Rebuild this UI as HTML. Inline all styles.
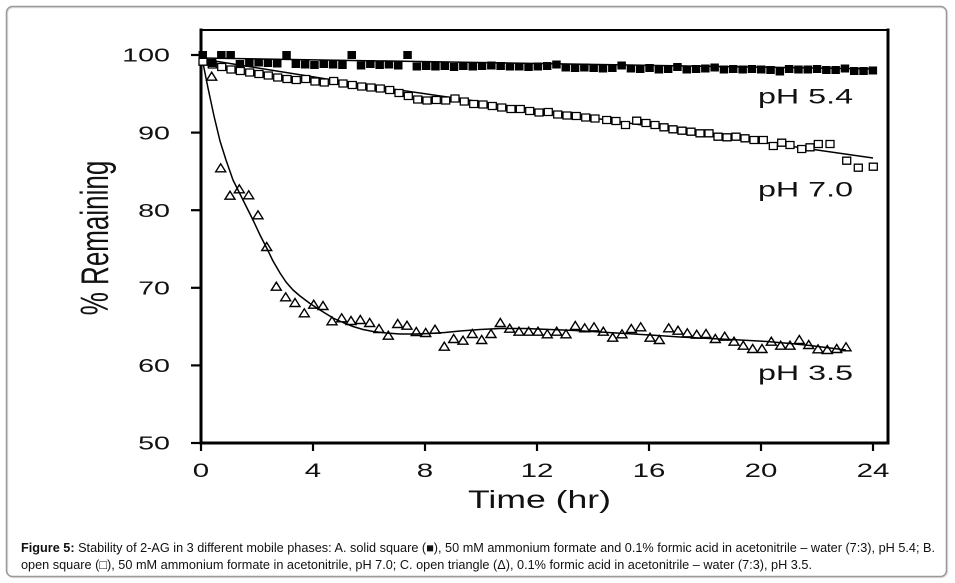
<!DOCTYPE html>
<html>
<head>
<meta charset="utf-8">
<style>
html,body{margin:0;padding:0;background:#fff;}
svg{display:block;}
text{font-family:"Liberation Sans",Arial,sans-serif;fill:#111;}
</style>
</head>
<body>
<svg width="955" height="583" viewBox="0 0 955 583" xmlns="http://www.w3.org/2000/svg">
<rect x="0" y="0" width="955" height="583" fill="#fff"/>
<!-- outer frame -->
<rect x="7.5" y="7.5" width="940" height="570" rx="6" ry="6" fill="none" stroke="#e2e2e2" stroke-width="1.5"/>
<rect x="6.5" y="6.5" width="940" height="570" rx="6" ry="6" fill="none" stroke="#999" stroke-width="1.5"/>

<!-- plot box -->
<g stroke="#000" fill="none" stroke-linecap="square">
<line x1="201" y1="30" x2="888" y2="30" stroke-width="2"/>
<line x1="888" y1="30" x2="888" y2="443" stroke-width="3"/>
<line x1="201" y1="30" x2="201" y2="443" stroke-width="3"/>
<line x1="201" y1="443" x2="888" y2="443" stroke-width="3"/>
</g>
<!-- ticks -->
<g stroke="#000" stroke-width="2.2">
<line x1="191" y1="55" x2="201" y2="55"/>
<line x1="191" y1="132.6" x2="201" y2="132.6"/>
<line x1="191" y1="210.2" x2="201" y2="210.2"/>
<line x1="191" y1="287.8" x2="201" y2="287.8"/>
<line x1="191" y1="365.4" x2="201" y2="365.4"/>
<line x1="191" y1="443" x2="201" y2="443"/>
<line x1="201" y1="443" x2="201" y2="451"/>
<line x1="313" y1="443" x2="313" y2="451"/>
<line x1="425" y1="443" x2="425" y2="451"/>
<line x1="537" y1="443" x2="537" y2="451"/>
<line x1="649" y1="443" x2="649" y2="451"/>
<line x1="761" y1="443" x2="761" y2="451"/>
<line x1="873" y1="443" x2="873" y2="451"/>
</g>
<!-- y tick labels -->
<g font-size="18.5" text-anchor="end">
<text transform="translate(170,61.7) scale(1.55,1)">100</text>
<text transform="translate(170,139.3) scale(1.55,1)">90</text>
<text transform="translate(170,216.9) scale(1.55,1)">80</text>
<text transform="translate(170,294.5) scale(1.55,1)">70</text>
<text transform="translate(170,372.1) scale(1.55,1)">60</text>
<text transform="translate(170,449.7) scale(1.55,1)">50</text>
</g>
<!-- x tick labels -->
<g font-size="19" text-anchor="middle">
<text transform="translate(201,477) scale(1.55,1)">0</text>
<text transform="translate(313,477) scale(1.55,1)">4</text>
<text transform="translate(425,477) scale(1.55,1)">8</text>
<text transform="translate(537,477) scale(1.55,1)">12</text>
<text transform="translate(649,477) scale(1.55,1)">16</text>
<text transform="translate(761,477) scale(1.55,1)">20</text>
<text transform="translate(873,477) scale(1.55,1)">24</text>
</g>
<!-- axis titles -->
<text x="468" y="508" font-size="25" textLength="143" lengthAdjust="spacingAndGlyphs">Time (hr)</text>
<text transform="translate(108,238) scale(1.5,1) rotate(-90)" font-size="26" text-anchor="middle">% Remaining</text>

<!-- series labels -->
<text x="758" y="103.3" font-size="21" textLength="95" lengthAdjust="spacingAndGlyphs">pH 5.4</text>
<text x="758" y="196.7" font-size="21" textLength="95" lengthAdjust="spacingAndGlyphs">pH 7.0</text>
<text x="758" y="380" font-size="21" textLength="95" lengthAdjust="spacingAndGlyphs">pH 3.5</text>

<!-- fit lines -->
<g fill="none" stroke="#000" stroke-width="1.5" stroke-linejoin="round">
<polyline points="202,58 873,69"/>
<polyline points="202,59 358,84 607,120 873,158"/>
<polyline points="202,58 208,88 214,116 220,141 226,160 233,180 243,200 253,220 260,235 266.7,248 273,261 280,273 286,282 293,290 300,296 310,303.5 320,310 333,318 343,322.5 353,326.5 363,329.5 373,331.5 386,333 400,334 415,334 430,333.5 445,332.5 460,331 480,329.5 500,328.5 525,328.5 550,329.5 575,330.5 600,332 625,333.5 650,335 680,337 710,338.5 740,340 767,341.5 790,343.5 810,345.5 830,348 846,350"/>
</g>

<!-- open squares pH 7.0 -->
<path fill="#fff" stroke="#000" stroke-width="1.3" d="M199 58.2h8v7h-8z M208.3 61h8v7h-8z M217.7 63.5h8v7h-8z M227 66h8v7h-8z M236.3 67.5h8v7h-8z M245.7 69h8v7h-8z M255 70.5h8v7h-8z M264.3 72h8v7h-8z M273.7 74h8v7h-8z M283 75.5h8v7h-8z M292.3 76.5h8v7h-8z M301.7 75.5h8v7h-8z M311 78h8v7h-8z M320.3 79h8v7h-8z M329.7 77.5h8v7h-8z M339 80h8v7h-8z M348.3 81.5h8v7h-8z M357.7 83h8v7h-8z M367 84h8v7h-8z M376.3 85h8v7h-8z M385.7 86.5h8v7h-8z M395 89.5h8v7h-8z M404.3 92.5h8v7h-8z M413.7 96h8v7h-8z M423 97h8v7h-8z M432.3 96.5h8v7h-8z M441.7 97h8v7h-8z M451 95h8v7h-8z M460.3 98h8v7h-8z M469.7 100.5h8v7h-8z M479 101h8v7h-8z M488.3 102.5h8v7h-8z M497.7 104h8v7h-8z M507 105.5h8v7h-8z M516.3 105.5h8v7h-8z M525.7 107.5h8v7h-8z M535 109h8v7h-8z M544.3 108.5h8v7h-8z M553.7 111h8v7h-8z M563 112h8v7h-8z M572.3 112.5h8v7h-8z M581.7 114h8v7h-8z M591 115h8v7h-8z M602.7 116.5h8v7h-8z M612 117.5h8v7h-8z M621.5 121.5h8v7h-8z M632.7 117.2h8v7h-8z M642 119.5h8v7h-8z M651 121.5h8v7h-8z M660 123.8h8v7h-8z M669 125.8h8v7h-8z M678 127.2h8v7h-8z M687 128.2h8v7h-8z M696 129.8h8v7h-8z M705 129.8h8v7h-8z M714 133.2h8v7h-8z M723 133.8h8v7h-8z M732 133.2h8v7h-8z M741 134.8h8v7h-8z M750 136.5h8v7h-8z M759.3 136.5h8v7h-8z M769.3 142.5h8v7h-8z M777.7 139.2h8v7h-8z M786 141.5h8v7h-8z M797.7 145.5h8v7h-8z M806 143.8h8v7h-8z M814.3 140.5h8v7h-8z M826 140.5h8v7h-8z M842.7 157.2h8v7h-8z M854.3 164.2h8v7h-8z M869.3 163.2h8v7h-8z"/>

<!-- filled squares pH 5.4 -->
<path fill="#000" d="M198.5 51h8.5v8h-8.5z M207.8 59h8.5v8h-8.5z M217.1 51h8.5v8h-8.5z M226.4 51h8.5v8h-8.5z M235.7 60h8.5v8h-8.5z M245.1 59h8.5v8h-8.5z M254.4 58.5h8.5v8h-8.5z M263.7 59h8.5v8h-8.5z M273 59.5h8.5v8h-8.5z M282.3 51h8.5v8h-8.5z M291.6 60h8.5v8h-8.5z M300.9 60.5h8.5v8h-8.5z M310.2 61h8.5v8h-8.5z M319.5 60h8.5v8h-8.5z M328.8 60.5h8.5v8h-8.5z M338.2 61h8.5v8h-8.5z M347.5 51h8.5v8h-8.5z M356.8 61.5h8.5v8h-8.5z M366.1 60h8.5v8h-8.5z M375.4 61h8.5v8h-8.5z M384.7 60.5h8.5v8h-8.5z M394 61.5h8.5v8h-8.5z M403.3 51h8.5v8h-8.5z M412.6 62.5h8.5v8h-8.5z M421.9 62h8.5v8h-8.5z M431.2 62.5h8.5v8h-8.5z M440.5 62h8.5v8h-8.5z M449.8 63h8.5v8h-8.5z M459.1 62h8.5v8h-8.5z M468.5 62.5h8.5v8h-8.5z M477.8 62h8.5v8h-8.5z M487.1 61.5h8.5v8h-8.5z M496.4 62h8.5v8h-8.5z M505.7 62.5h8.5v8h-8.5z M515 62.5h8.5v8h-8.5z M524.3 63h8.5v8h-8.5z M533.6 62.5h8.5v8h-8.5z M542.9 62h8.5v8h-8.5z M552.2 60.5h8.5v8h-8.5z M561.5 63.5h8.5v8h-8.5z M570.8 64h8.5v8h-8.5z M580.1 63.5h8.5v8h-8.5z M589.4 64h8.5v8h-8.5z M598.7 64.5h8.5v8h-8.5z M608.1 64h8.5v8h-8.5z M617.4 61.5h8.5v8h-8.5z M626.7 64.5h8.5v8h-8.5z M636 65h8.5v8h-8.5z M645.3 64h8.5v8h-8.5z M654.6 65.5h8.5v8h-8.5z M663.9 65h8.5v8h-8.5z M673.2 63h8.5v8h-8.5z M682.5 65.5h8.5v8h-8.5z M691.8 65h8.5v8h-8.5z M701.1 64.5h8.5v8h-8.5z M710.4 63.5h8.5v8h-8.5z M719.7 65.5h8.5v8h-8.5z M729 65h8.5v8h-8.5z M738.4 65.5h8.5v8h-8.5z M747.7 65h8.5v8h-8.5z M757 65.5h8.5v8h-8.5z M766.3 66h8.5v8h-8.5z M775.6 67.5h8.5v8h-8.5z M784.9 65h8.5v8h-8.5z M794.2 65.5h8.5v8h-8.5z M803.5 65.5h8.5v8h-8.5z M812.8 65h8.5v8h-8.5z M822.1 66h8.5v8h-8.5z M831.4 66h8.5v8h-8.5z M840.7 64.5h8.5v8h-8.5z M850 67h8.5v8h-8.5z M859.3 67h8.5v8h-8.5z M868.6 66.5h8.5v8h-8.5z"/>

<!-- open triangles pH 3.5 -->
<path fill="none" stroke="#000" stroke-width="1.4" stroke-linejoin="miter" d="M206.7 80.2h10l-5-8z M215.7 171.8h10l-5-8z M225 199.2h10l-5-8z M234.3 192.8h10l-5-8z M243.7 198.8h10l-5-8z M253 218.8h10l-5-8z M261.7 250.5h10l-5-8z M271.3 290.2h10l-5-8z M280.7 300.8h10l-5-8z M290 306.5h10l-5-8z M299.3 316.8h10l-5-8z M308.7 308.2h10l-5-8z M318 309.5h10l-5-8z M327 324.8h10l-5-8z M336.7 321.8h10l-5-8z M346 324.5h10l-5-8z M355.3 323.5h10l-5-8z M364.7 326.5h10l-5-8z M374 332.5h10l-5-8z M383.3 339.2h10l-5-8z M392.7 327.5h10l-5-8z M402 329.2h10l-5-8z M411.3 335.5h10l-5-8z M420.7 336.5h10l-5-8z M430 333.2h10l-5-8z M439.3 350.2h10l-5-8z M448.7 342.5h10l-5-8z M458 344.2h10l-5-8z M467.3 337.5h10l-5-8z M476.7 343.5h10l-5-8z M486 337.5h10l-5-8z M495.3 326.5h10l-5-8z M504.7 332.2h10l-5-8z M514 335.2h10l-5-8z M523.7 335.2h10l-5-8z M533 335.2h10l-5-8z M542.3 337.8h10l-5-8z M551.7 335.2h10l-5-8z M561 337.8h10l-5-8z M570.3 329.5h10l-5-8z M579.7 331.8h10l-5-8z M589 330.8h10l-5-8z M598.3 335.2h10l-5-8z M607.7 341.2h10l-5-8z M617 337.8h10l-5-8z M626.3 332.5h10l-5-8z M635.7 330.8h10l-5-8z M645 341.2h10l-5-8z M654.3 343.5h10l-5-8z M663.7 331.8h10l-5-8z M673 334.2h10l-5-8z M682.3 336.8h10l-5-8z M691.7 338.2h10l-5-8z M701 337.5h10l-5-8z M710.3 342.5h10l-5-8z M719.7 340.2h10l-5-8z M729 345.2h10l-5-8z M738.3 349.2h10l-5-8z M747.7 352.5h10l-5-8z M757 352.5h10l-5-8z M766.3 345.2h10l-5-8z M775.7 349.2h10l-5-8z M785 349.2h10l-5-8z M794.3 343.5h10l-5-8z M803.7 348.5h10l-5-8z M813 352.8h10l-5-8z M822.3 353.5h10l-5-8z M831.7 352.5h10l-5-8z M841 350.8h10l-5-8z"/>

<!-- caption -->
<text x="21" y="552" font-size="12.5" textLength="914" lengthAdjust="spacingAndGlyphs"><tspan font-weight="bold">Figure 5:</tspan> Stability of 2-AG in 3 different mobile phases: A. solid square (■), 50 mM ammonium formate and 0.1% formic acid in acetonitrile – water (7:3), pH 5.4; B.</text>
<text x="21" y="569" font-size="12.5" textLength="791" lengthAdjust="spacingAndGlyphs">open square (□), 50 mM ammonium formate in acetonitrile, pH 7.0; C. open triangle (Δ), 0.1% formic acid in acetonitrile – water (7:3), pH 3.5.</text>
</svg>
</body>
</html>
